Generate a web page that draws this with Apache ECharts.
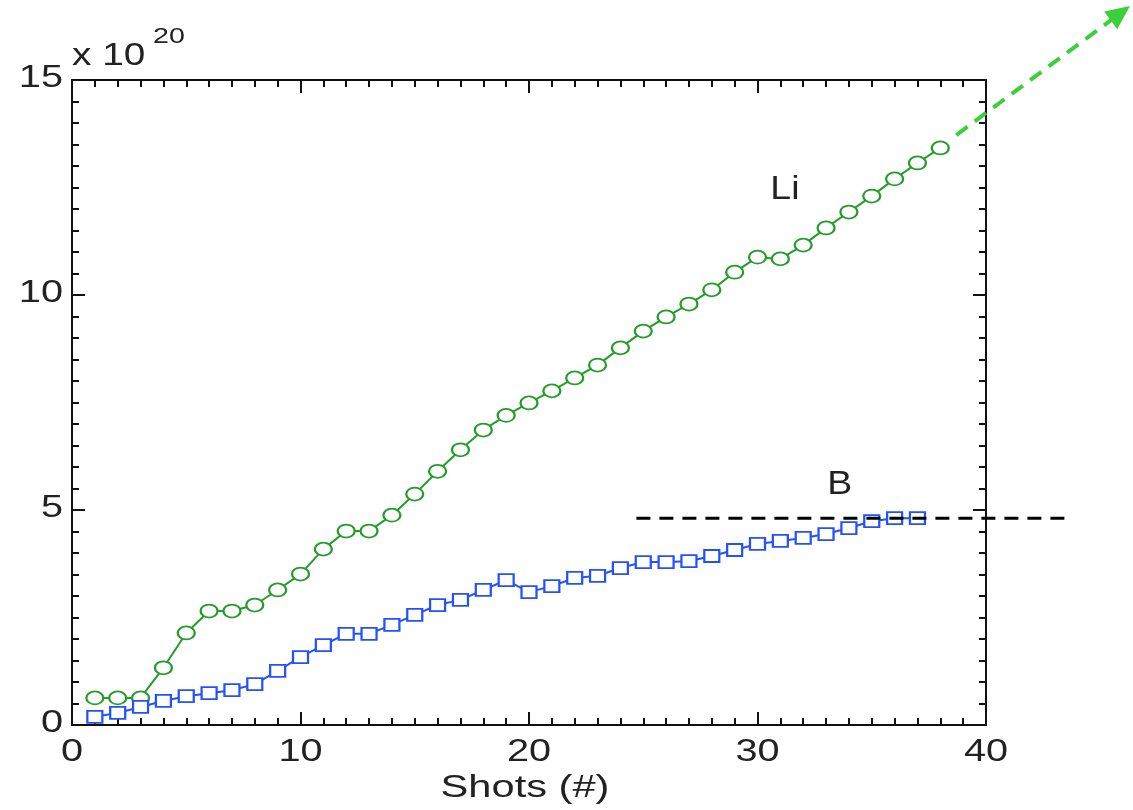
<!DOCTYPE html>
<html><head><meta charset="utf-8">
<script src="https://cdn.jsdelivr.net/npm/echarts@6/dist/echarts.min.js"></script>
<style>html,body{margin:0;padding:0;background:#fff}#c{width:1133px;height:810px}</style>
</head><body><div id="c"></div>
<script>
const shots = [1,2,3,4,5,6,7,8,9,10,11,12,13,14,15,16,17,18,19,20,21,22,23,24,25,26,27,28,29,30,31,32,33,34,35,36,37,38];
const li = [0.63,0.63,0.63,1.33,2.14,2.65,2.65,2.79,3.14,3.51,4.09,4.51,4.51,4.88,5.37,5.90,6.40,6.86,7.20,7.49,7.77,8.07,8.37,8.77,9.16,9.49,9.79,10.12,10.53,10.88,10.84,11.16,11.56,11.93,12.30,12.70,13.07,13.42];
const boron = [0.19,0.28,0.42,0.56,0.67,0.74,0.81,0.95,1.26,1.58,1.86,2.12,2.12,2.33,2.56,2.79,2.91,3.14,3.37,3.09,3.23,3.42,3.47,3.65,3.79,3.79,3.81,3.93,4.07,4.21,4.28,4.35,4.44,4.58,4.74,4.81,4.81];
const xTicks = [0,10,20,30,40];
const yTicks = [0,5,10,15];
// annotations (data coordinates)
const bLevelLine = [[24.7,4.81],[43.7,4.81]];
const liArrow = [[38.7,13.72],[46.3,16.72]];
const labelLi = [31.2, 12.45];
const labelB = [33.6, 5.6];

const FONT = '"Liberation Sans", Arial, Helvetica, sans-serif';
const TXT = '#222';
const chart = echarts.init(document.getElementById('c'));
function axisCommon(){
  return {
    axisLine:{show:true,onZero:false,lineStyle:{color:'#111',width:2}},
    axisTick:{show:true,inside:true,length:13,lineStyle:{color:'#111',width:2}},
    minorTick:{show:true,splitNumber:10,length:7,lineStyle:{color:'#111',width:2}},
    splitLine:{show:false},
    axisLabel:{show:false}
  };
}
chart.setOption({
  animation:false,
  grid:{left:72,right:147,top:80,bottom:85},
  xAxis:[
    Object.assign({type:'value',min:0,max:40,interval:10,position:'bottom'}, axisCommon()),
    Object.assign({type:'value',min:0,max:40,interval:10,position:'top'}, axisCommon())
  ],
  yAxis:[
    Object.assign({type:'value',min:0,max:15,interval:5,position:'left'}, axisCommon()),
    Object.assign({type:'value',min:0,max:15,interval:5,position:'right'}, axisCommon())
  ],
  series:[
    {type:'line',name:'Li',data:shots.map((s,i)=>[s,li[i]]),xAxisIndex:0,yAxisIndex:0,
     symbol:'emptyCircle',symbolSize:[17,13],lineStyle:{color:'#249c28',width:2},
     itemStyle:{color:'#249c28',borderWidth:2},z:3},
    {type:'line',name:'B',data:boron.map((v,i)=>[shots[i],v]),xAxisIndex:0,yAxisIndex:0,
     symbol:'rect',symbolSize:[15,12],lineStyle:{color:'#2450ff',width:2},
     itemStyle:{color:'#fff',borderColor:'#2450ff',borderWidth:2},z:3}
  ]
});

function px(p){return chart.convertToPixel({xAxisIndex:0,yAxisIndex:0},p);}
function txt(x,y,text,size,align,sx){
  return {type:'text',x:x,y:y,scaleX:sx,silent:true,
    style:{text:text,fill:TXT,fontSize:size,fontFamily:FONT,align:align,verticalAlign:'middle'}};
}
const g = [];
const a0 = px(liArrow[0]), a1 = px(liArrow[1]);
const ang = Math.atan2(a1[1]-a0[1], a1[0]-a0[0]);
const hl = 24, hw = 11;
const base = [a1[0]-hl*Math.cos(ang), a1[1]-hl*Math.sin(ang)];
const nx = -Math.sin(ang), ny = Math.cos(ang);
const l0 = px(bLevelLine[0]), l1 = px(bLevelLine[1]);
g.push({type:'line',shape:{x1:l0[0],y1:l0[1],x2:l1[0],y2:l1[1]},
  style:{stroke:'#000',lineWidth:3,lineDash:[14,9]},z:10});
g.push({type:'line',shape:{x1:a0[0],y1:a0[1],x2:base[0]+4*Math.cos(ang),y2:base[1]+4*Math.sin(ang)},
  style:{stroke:'#3ccf3c',lineWidth:4,lineDash:[14,9]},z:10});
g.push({type:'polygon',shape:{points:[[a1[0],a1[1]],[base[0]+nx*hw,base[1]+ny*hw],[base[0]-nx*hw,base[1]-ny*hw]]},
  style:{fill:'#3ccf3c'},z:10});
const pLi = px(labelLi), pB = px(labelB);
g.push(txt(pLi[0],pLi[1],'Li',34,'center',1.1));
g.push(txt(pB[0],pB[1],'B',34,'center',1.1));
// tick labels
xTicks.forEach(v=>{const p=px([v,0]); g.push(txt(p[0],p[1]+27,String(v),31,'center',1.28));});
yTicks.forEach(v=>{const p=px([0,v]); g.push(txt(p[0]-9,p[1]-2,String(v),31,'right',1.28));});
// axis name
const pn = px([20,0]);
g.push(txt(pn[0]-4,pn[1]+63,'Shots (#)',32,'center',1.3));
// exponent
const pt = px([0,15]);
g.push(txt(pt[0],pt[1]-24,'x 10',31,'left',1.25));
g.push(txt(pt[0]+81,pt[1]-43,'20',22,'left',1.3));
chart.setOption({graphic:g});
</script></body></html>
